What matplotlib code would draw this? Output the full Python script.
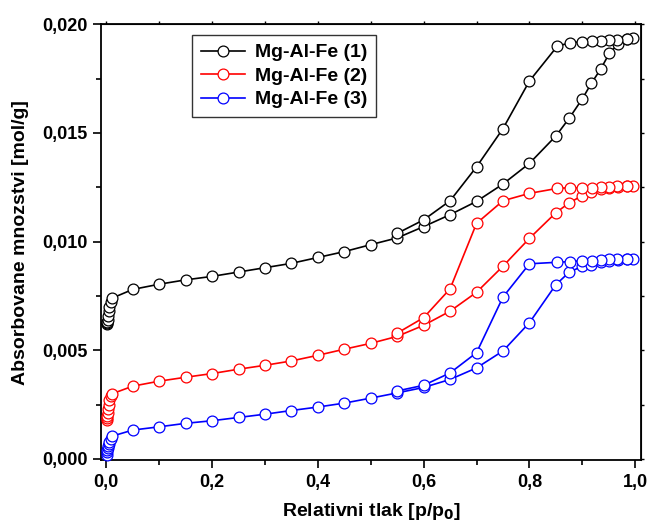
import matplotlib
matplotlib.use("Agg")
import matplotlib.pyplot as plt
import numpy as np
from matplotlib.ticker import FuncFormatter, MultipleLocator

plt.rcParams["font.family"] = ["Liberation Sans", "DejaVu Sans"]
plt.rcParams["font.weight"] = "bold"

# near-zero pressure points (shared x for all samples)
x_low = [0.001, 0.0015, 0.002, 0.003, 0.004, 0.005, 0.006, 0.008, 0.011]
# adsorption branch x
x_ads = [0.05, 0.10, 0.15, 0.20, 0.25, 0.30, 0.35, 0.40, 0.45, 0.50, 0.55, 0.60,
         0.65, 0.70, 0.75, 0.80, 0.85, 0.875, 0.90, 0.917, 0.935, 0.951, 0.968, 0.985, 0.995]
# desorption branch x
x_des = [0.985, 0.965, 0.951, 0.935, 0.918, 0.90, 0.877, 0.853, 0.80, 0.75, 0.70, 0.65, 0.60, 0.55]

# Mg-Al-Fe (1)
low_1 = [0.0062, 0.00625, 0.0063, 0.0064, 0.0066, 0.0068, 0.0070, 0.0072, 0.0074]
ads_1 = [0.0078, 0.00804, 0.00824, 0.0084, 0.0086, 0.0088, 0.0090, 0.00927, 0.00954, 0.00986,
         0.01017, 0.01069, 0.01124, 0.01185, 0.01265, 0.0136, 0.01486, 0.01567, 0.01657,
         0.01728, 0.01795, 0.01866, 0.0191, 0.0193, 0.01936]
des_1 = [0.01933, 0.01928, 0.01927, 0.01925, 0.01921, 0.0192, 0.01914, 0.0190, 0.01739,
         0.0152, 0.01344, 0.01188, 0.0110, 0.01038]

# Mg-Al-Fe (2)
low_2 = [0.0018, 0.0019, 0.0020, 0.0021, 0.0023, 0.0025, 0.0027, 0.0029, 0.0030]
ads_2 = [0.00335, 0.00358, 0.00376, 0.00393, 0.00413, 0.00431, 0.00451, 0.00477, 0.00505,
         0.00532, 0.00564, 0.00615, 0.0068, 0.00767, 0.00887, 0.01015, 0.01133, 0.01178,
         0.01212, 0.01226, 0.0124, 0.01246, 0.01252, 0.01255, 0.01258]
des_2 = [0.01256, 0.01254, 0.01252, 0.0125, 0.01248, 0.01246, 0.01248, 0.01245, 0.01222,
         0.01188, 0.01084, 0.00783, 0.0065, 0.00579]

# Mg-Al-Fe (3)
low_3 = [0.0002, 0.0003, 0.0004, 0.0005, 0.0006, 0.0007, 0.0008, 0.0009, 0.00105]
ads_3 = [0.00133, 0.00148, 0.00164, 0.00176, 0.00191, 0.00206, 0.00223, 0.00239, 0.00257,
         0.0028, 0.00304, 0.00329, 0.00366, 0.00419, 0.00497, 0.00627, 0.00802, 0.00859,
         0.00887, 0.00894, 0.00905, 0.0091, 0.00915, 0.00918, 0.00922]
des_3 = [0.0092, 0.0092, 0.00918, 0.00915, 0.00913, 0.00912, 0.00908, 0.00905, 0.00898,
         0.00745, 0.00489, 0.00396, 0.00339, 0.00313]

labels = ["Mg-Al-Fe (1)", "Mg-Al-Fe (2)", "Mg-Al-Fe (3)"]
colors = ["black", "red", "blue"]


def comma(fmt):
    return FuncFormatter(lambda v, pos: fmt.format(v).replace(".", ","))


fig = plt.figure(figsize=(6.49, 5.27), dpi=100)
ax = fig.add_axes([0.156, 0.127, 0.832, 0.827])

x_all = x_low + x_ads + x_des
for low, ads, des, lab, col in zip([low_1, low_2, low_3], [ads_1, ads_2, ads_3],
                                   [des_1, des_2, des_3], labels, colors):
    ax.plot(x_all, low + ads + des, color=col, lw=1.2, marker="o", ms=7.8,
            mfc="white", mec=col, mew=0.9, label=lab, clip_on=False, zorder=3)

ax.set_xlim(-0.0095, 1.0113)
ax.set_ylim(-0.00005, 0.02)
ax.xaxis.set_major_locator(MultipleLocator(0.2))
ax.xaxis.set_minor_locator(MultipleLocator(0.1))
ax.yaxis.set_major_locator(MultipleLocator(0.005))
ax.yaxis.set_minor_locator(MultipleLocator(0.0025))
ax.xaxis.set_major_formatter(comma("{:.1f}"))
ax.yaxis.set_major_formatter(comma("{:.3f}"))
ax.tick_params(which="major", direction="out", length=6, width=1.2, labelsize=13, pad=4)
ax.tick_params(which="minor", direction="out", length=3.5, width=1.2)
for s in ax.spines.values():
    s.set_linewidth(1.3)

top = ax.secondary_xaxis("top")
top.set_xticks(np.arange(0, 1.01, 0.1))
top.tick_params(direction="out", length=2.5, width=1.0, labeltop=False)
right = ax.secondary_yaxis("right")
right.set_yticks(np.arange(0, 0.0201, 0.0025))
right.tick_params(direction="out", length=2.5, width=1.0, labelright=False)

ax.set_xlabel("Relativni tlak [p/p$_\\mathbf{0}$]", fontsize=14, fontweight="bold", labelpad=7)
ax.set_ylabel("Absorbovane mnozstvi [mol/g]", fontsize=14, fontweight="bold", labelpad=9)

leg = ax.legend(loc="upper left", bbox_to_anchor=(0.168, 0.975), fontsize=14,
                frameon=True, fancybox=False, edgecolor="black", handlelength=2.3,
                labelspacing=0.3, borderpad=0.45, handletextpad=0.5, borderaxespad=0)
leg.get_frame().set_linewidth(1.0)

fig.savefig("out.png", dpi=100)
